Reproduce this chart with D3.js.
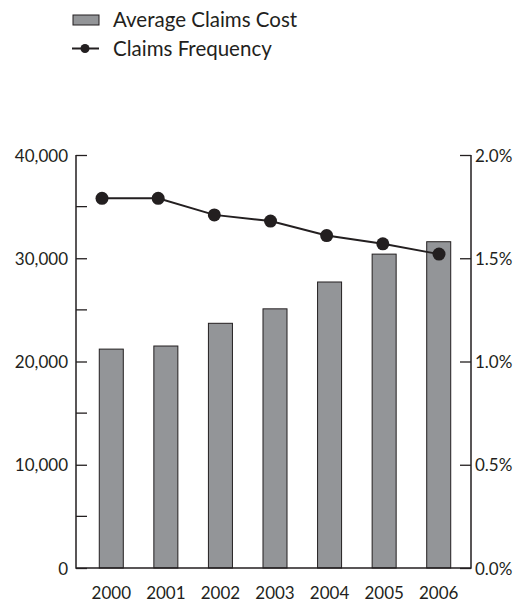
<!DOCTYPE html>
<html>
<head>
<meta charset="utf-8">
<script src="https://cdn.jsdelivr.net/npm/d3@7"></script>
<style>
  html, body { margin: 0; padding: 0; background: #fff; }
  svg { display: block; }
  text { font-family: Lato, "Noto Sans", sans-serif; fill: #231f20; }
</style>
</head>
<body>
<svg id="chart" width="524" height="604"></svg>
<script>
// Average claims cost (left axis, dollars) and claims frequency (right axis, percent)
const years = ["2000", "2001", "2002", "2003", "2004", "2005", "2006"];
const avgClaimsCost = [21200, 21500, 23700, 25100, 27700, 30400, 31600];
const claimsFrequency = [1.79, 1.79, 1.71, 1.68, 1.61, 1.57, 1.52];
const leftTicks = [0, 10000, 20000, 30000, 40000];
const leftMinorTicks = [5000, 15000, 25000, 35000];
const rightTicks = [0, 0.5, 1.0, 1.5, 2.0];
const legendLabels = ["Average Claims Cost", "Claims Frequency"];

const ink = "#231f20";
const barFill = "#939598";
const axisFont = "17px";

const svg = d3.select("#chart");
const plot = { left: 76, right: 471, top: 155, bottom: 568 };

const x = d3.scaleBand()
  .domain(years)
  .range([plot.left + 8, plot.right - 5])
  .paddingInner(0.56)
  .paddingOuter(0.28);

// the frequency line spreads a little wider than the bars
const xLine = d3.scalePoint()
  .domain(years)
  .range([102, 439]);

const yLeft = d3.scaleLinear().domain([0, 40000]).range([plot.bottom, plot.top]);
const yRight = d3.scaleLinear().domain([0, 2.0]).range([plot.bottom, plot.top]);

// bars
svg.append("g")
  .selectAll("rect")
  .data(years)
  .join("rect")
  .attr("x", d => x(d))
  .attr("width", x.bandwidth())
  .attr("y", (d, i) => yLeft(avgClaimsCost[i]))
  .attr("height", (d, i) => plot.bottom - yLeft(avgClaimsCost[i]))
  .attr("fill", barFill)
  .attr("stroke", ink)
  .attr("stroke-width", 1);

// left axis: labels outside, ticks pointing into the plot
const leftAxis = d3.axisLeft(yLeft)
  .tickValues(leftTicks)
  .tickSize(-11)
  .tickFormat(d3.format(","));
const gL = svg.append("g")
  .attr("transform", `translate(${plot.left},0)`)
  .call(leftAxis);
gL.select(".domain").remove();
gL.selectAll(".tick text").attr("x", -8);

svg.append("g")
  .selectAll("line")
  .data(leftMinorTicks)
  .join("line")
  .attr("x1", plot.left).attr("x2", plot.left + 11)
  .attr("y1", d => yLeft(d)).attr("y2", d => yLeft(d))
  .attr("stroke", ink).attr("stroke-width", 1.3);

// right axis
const rightAxis = d3.axisRight(yRight)
  .tickValues(rightTicks)
  .tickSize(-11)
  .tickFormat(d => d3.format(".1f")(d) + "%");
const gR = svg.append("g")
  .attr("transform", `translate(${plot.right},0)`)
  .call(rightAxis);
gR.select(".domain").remove();
gR.selectAll(".tick text").attr("x", 4);

[gL, gR].forEach(g => {
  g.selectAll(".tick line").attr("stroke", ink).attr("stroke-width", 1.3);
  g.selectAll(".tick text")
    .style("font-size", axisFont)
    .attr("fill", ink)
    .attr("dy", "0.36em");
});

// frame lines: left, right, baseline
svg.append("path")
  .attr("d", `M${plot.left},${plot.top}V${plot.bottom}H${plot.right}V${plot.top}`)
  .attr("fill", "none")
  .attr("stroke", ink)
  .attr("stroke-width", 1.5);

// year labels
svg.append("g")
  .selectAll("text")
  .data(years)
  .join("text")
  .attr("x", d => x(d) + x.bandwidth() / 2)
  .attr("y", 593)
  .attr("dy", "0.36em")
  .attr("text-anchor", "middle")
  .style("font-size", axisFont)
  .text(d => d);

// frequency line with markers
const line = d3.line()
  .x((d, i) => xLine(years[i]))
  .y(d => yRight(d));
svg.append("path")
  .datum(claimsFrequency)
  .attr("d", line)
  .attr("fill", "none")
  .attr("stroke", ink)
  .attr("stroke-width", 2);
svg.append("g")
  .selectAll("circle")
  .data(claimsFrequency)
  .join("circle")
  .attr("cx", (d, i) => xLine(years[i]))
  .attr("cy", d => yRight(d))
  .attr("r", 6.5)
  .attr("fill", ink);

// legend
const legend = svg.append("g");
legend.append("rect")
  .attr("x", 73).attr("y", 15).attr("width", 26).attr("height", 10)
  .attr("fill", barFill).attr("stroke", ink).attr("stroke-width", 1);
legend.append("line")
  .attr("x1", 72).attr("x2", 99).attr("y1", 48.5).attr("y2", 48.5)
  .attr("stroke", ink).attr("stroke-width", 2);
legend.append("circle")
  .attr("cx", 85).attr("cy", 48.5).attr("r", 4.5).attr("fill", ink);
legend.selectAll("text")
  .data(legendLabels)
  .join("text")
  .attr("x", 113)
  .attr("y", (d, i) => i === 0 ? 20 : 48.5)
  .attr("dy", "0.36em")
  .style("font-size", "20.5px")
  .text(d => d);
</script>
</body>
</html>
